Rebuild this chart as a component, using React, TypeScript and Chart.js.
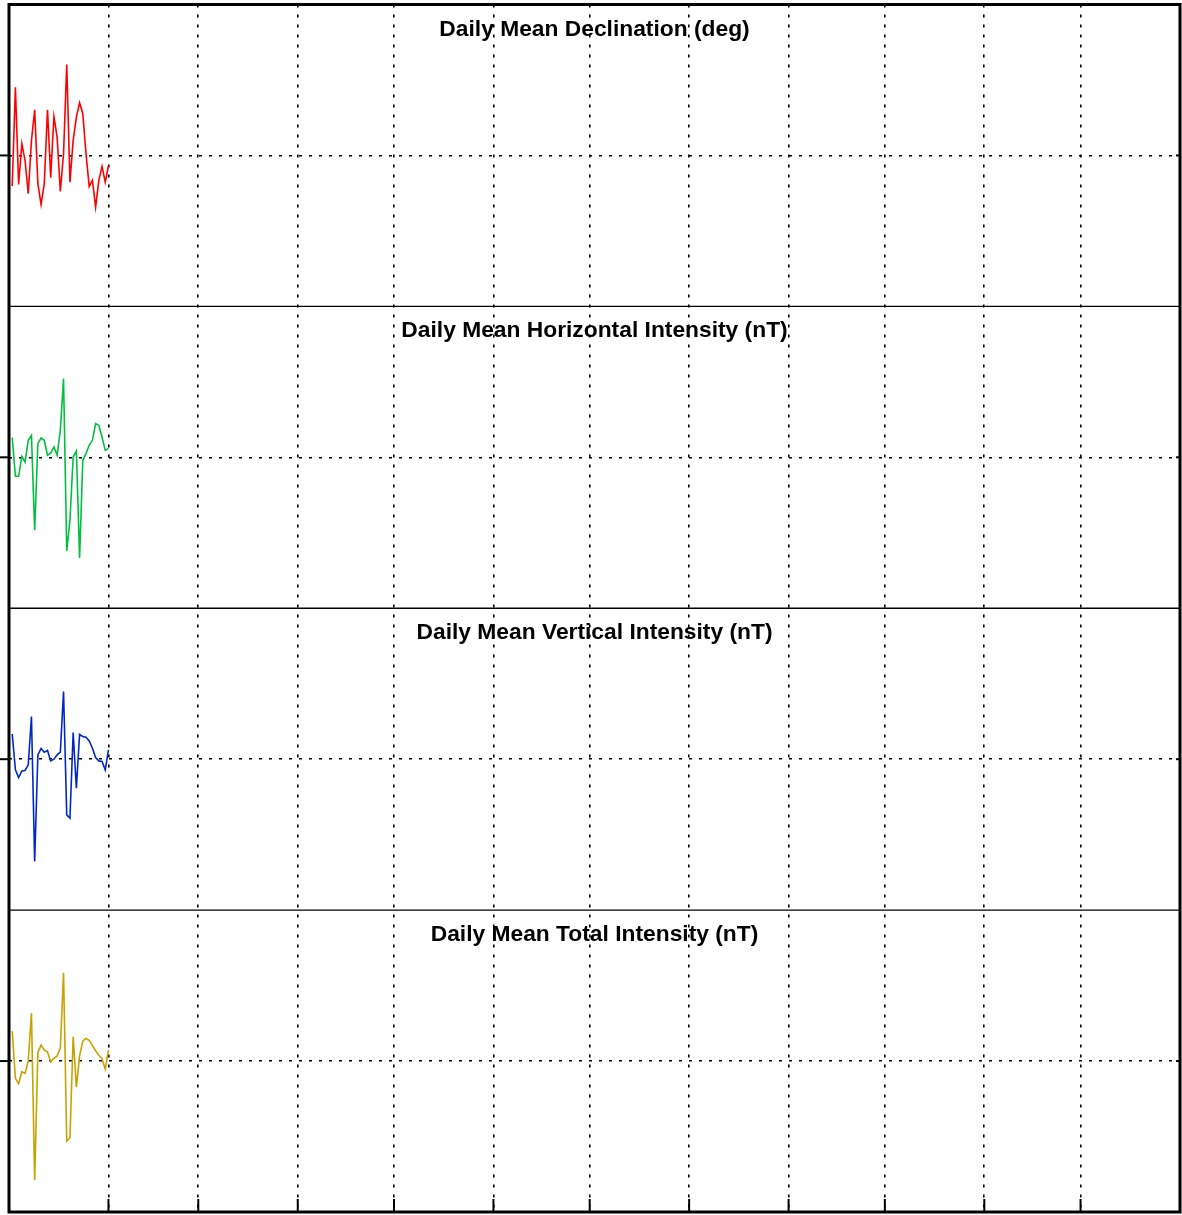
import React, { useEffect, useRef } from 'react';
import { Chart, registerables } from 'chart.js';

Chart.register(...registerables);

// Day of year for each daily mean (January)
const days = [1, 2, 3, 4, 5, 6, 7, 8, 9, 10, 11, 12, 13, 14, 15, 16, 17, 18, 19, 20, 21, 22, 23, 24, 25, 26, 27, 28, 29, 30, 31];

// Month-start day-of-year ticks (Feb .. Dec)
const monthStarts = [31, 59, 90, 120, 151, 181, 212, 243, 273, 304, 334];

const panelTitles = [
  'Daily Mean Declination (deg)',
  'Daily Mean Horizontal Intensity (nT)',
  'Daily Mean Vertical Intensity (nT)',
  'Daily Mean Total Intensity (nT)',
];

// Deviations from each panel's baseline (relative units)
const declination = [-30.7, 68.3, -29, 11.7, -5, -38.3, 15, 45.7, -28.3, -49, -28.3, 45.7, -22.3, 39, 18.3, -36, 1.7, 91, -26.7, 15, 38.3, 52.7, 41.7, 1.7, -31, -25, -51.7, -25, -11, -26.7, -10.3];
const horizontal = [19.7, -19, -19, 1, -4.7, 17, 22, -73, 13.7, 19.3, 17, 2, 4.3, 10.3, 2, 27, 78.7, -93.7, -63, 0.3, 6.3, -100.7, -3, 3.7, 12, 17, 33.7, 32, 20.3, 7, 9];
const vertical = [25.3, -10.7, -18.3, -11.7, -11.3, -5.7, 42.7, -102.3, 4.3, 10.7, 7, 8.7, -1.7, 0, 4.3, 7, 67.7, -55.7, -59, 26.7, -29, 24.7, 22.7, 22, 18.3, 11, 1.7, -1.7, -2.3, -10.7, 9.3];
const total = [30, -17.3, -22.7, -10.7, -12.3, 0, 47.7, -119.3, 8.3, 16, 11, 9, -0.7, 2.7, 5, 13.3, 88.3, -80, -76.7, 24.3, -26, 5, 20, 22.7, 20.7, 15.7, 10.3, 5.7, 2.3, -8.3, 11];

const panelBaselines = [0, 0, 0, 0];
const panelMin = -151;
const panelMax = 151;

const seriesList = [declination, horizontal, vertical, total];
const seriesColors = ['#ff0000', '#00c040', '#0028c8', '#c8a200'];
const axisIds = ['y1', 'y2', 'y3', 'y4'];

const panelPlugin = {
  id: 'panelDecor',
  afterDraw(chart: any) {
    const { ctx, chartArea: ca } = chart;
    const ys = axisIds.map((id) => chart.scales[id]);
    const xs = chart.scales.x;
    const line = (x1: number, y1: number, x2: number, y2: number) => {
      ctx.beginPath();
      ctx.moveTo(x1, y1);
      ctx.lineTo(x2, y2);
      ctx.stroke();
    };
    ctx.save();
    ctx.strokeStyle = '#000';
    ctx.setLineDash([]);
    // panel separators
    ctx.lineWidth = 1.4;
    ys.slice(0, ys.length - 1).forEach((s: any) => line(ca.left, s.bottom, ca.right, s.bottom));
    // y ticks: outward on left, inward on right
    ctx.lineWidth = 2;
    ys.forEach((s: any) =>
      s.ticks.forEach((t: any) => {
        const y = s.getPixelForValue(t.value);
        line(0, y, ca.left, y);
        line(ca.right - 4, y, ca.right, y);
      })
    );
    // x ticks: inward at bottom
    xs.ticks.forEach((t: any) => {
      const x = xs.getPixelForValue(t.value);
      line(x, ca.bottom - 13, x, ca.bottom);
    });
    // frame
    ctx.lineWidth = 3;
    ctx.strokeRect(ca.left, ca.top, ca.right - ca.left, ca.bottom - ca.top);
    // titles
    ctx.fillStyle = '#000';
    ctx.font = 'bold 22.8px "Liberation Sans", Arial, sans-serif';
    ctx.textAlign = 'center';
    ctx.textBaseline = 'alphabetic';
    ys.forEach((s: any, i: number) => ctx.fillText(panelTitles[i], (ca.left + ca.right) / 2, s.top + 31));
    ctx.restore();
  },
};

export default function App() {
  const canvasRef = useRef<HTMLCanvasElement | null>(null);

  useEffect(() => {
    if (!canvasRef.current) return;
    const yScales: any = {};
    axisIds.forEach((id, i) => {
      yScales[id] = {
        type: 'linear',
        position: 'left',
        stack: 'panels',
        stackWeight: 1,
        weight: axisIds.length - i,
        offset: false,
        min: panelBaselines[i] + panelMin,
        max: panelBaselines[i] + panelMax,
        afterBuildTicks: (scale: any) => {
          scale.ticks = [{ value: panelBaselines[i] }];
        },
        ticks: { display: false },
        grid: { color: '#000', lineWidth: 1.6, drawTicks: false },
        border: { display: false, dash: [3, 7] },
      };
    });

    const chart = new Chart(canvasRef.current, {
      type: 'line',
      data: {
        datasets: seriesList.map((vals, i) => ({
          label: panelTitles[i],
          data: days.map((d, j) => ({ x: d, y: vals[j] + panelBaselines[i] })),
          borderColor: seriesColors[i],
          backgroundColor: seriesColors[i],
          borderWidth: 1.6,
          pointRadius: 0,
          tension: 0,
          fill: false,
          xAxisID: 'x',
          yAxisID: axisIds[i],
        })),
      },
      options: {
        animation: false,
        responsive: false,
        maintainAspectRatio: false,
        layout: { padding: { left: 9, right: 2, top: 4.5, bottom: 3 } },
        plugins: { legend: { display: false }, tooltip: { enabled: false }, title: { display: false } },
        scales: {
          x: {
            type: 'linear',
            min: 0,
            max: 365,
            afterBuildTicks: (scale: any) => {
              scale.ticks = monthStarts.map((v) => ({ value: v }));
            },
            ticks: { display: false },
            grid: { color: '#000', lineWidth: 1.6, drawTicks: false },
            border: { display: false, dash: [3, 7] },
          },
          ...yScales,
        },
      },
      plugins: [panelPlugin],
    } as any);
    return () => chart.destroy();
  }, []);

  return (
    <div style={{ position: 'absolute', left: 0, top: 0, width: 1182, height: 1215, background: '#fff' }}>
      <canvas ref={canvasRef} width={1182} height={1215} style={{ display: 'block', width: 1182, height: 1215 }} />
    </div>
  );
}
